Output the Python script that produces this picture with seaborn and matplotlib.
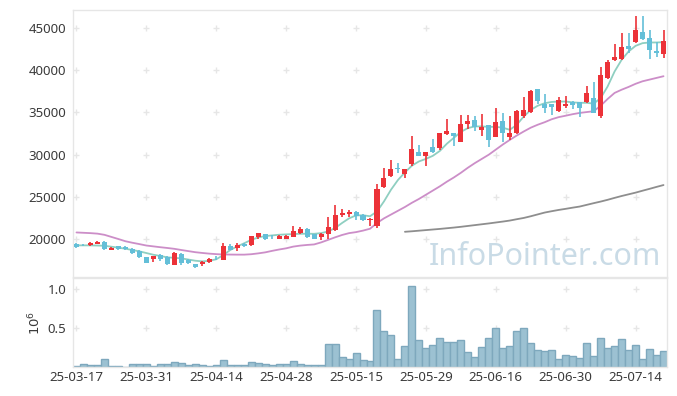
import numpy as np
import pandas as pd
import matplotlib
matplotlib.use('Agg')
import matplotlib.pyplot as plt
import seaborn as sns

# trading days (KRX holidays removed)
holidays = ['2025-05-01', '2025-05-05', '2025-05-06', '2025-06-03', '2025-06-06']
dates = pd.bdate_range('2025-03-17', '2025-07-18', freq='C', holidays=holidays)

opens = [19400, 19300, 19330, 19450, 19680, 18740, 19130, 19090, 18850, 18620,
         17830, 17590, 18150, 17900, 16960, 18260, 17550, 17080, 17040, 17270,
         17800, 17550, 19206, 18970, 19440, 19245, 20270, 20620, 20140, 20000,
         20000, 20270, 20660, 21220, 20620, 20270, 20550, 21050, 22800, 23000,
         23230, 22880, 22250, 21570, 26120, 27420, 28400, 27740, 28880, 30330,
         29790, 30900, 30760, 32500, 32580, 31560, 33580, 34130, 32970, 33500,
         32140, 34000, 32140, 32540, 34600, 35000, 37810, 36030, 36030, 35120,
         35720, 36230, 36230, 36190, 36740, 34530, 39070, 41170, 41400, 42900,
         43300, 44560, 43810, 42310, 41950]
highs = [19490, 19450, 19640, 19760, 19720, 19050, 19170, 19130, 18900, 18660,
         17860, 18020, 18220, 17950, 18420, 18300, 17600, 17100, 17390, 17700,
         17950, 19520, 19400, 19520, 19520, 20400, 20740, 20650, 20500, 20430,
         20500, 21530, 21380, 21300, 20650, 20700, 22560, 24060, 23550, 23470,
         23270, 22960, 22440, 26500, 28400, 29320, 29000, 28330, 32200, 31200,
         30330, 31850, 32600, 34230, 32600, 34730, 34730, 34600, 34780, 33520,
         35500, 34900, 34620, 35300, 36820, 37650, 37810, 37200, 36030, 36820,
         36900, 36310, 36230, 38200, 38560, 40400, 41250, 43100, 44400, 44400,
         46400, 46400, 44800, 43300, 44800]
lows = [18930, 19130, 19130, 19400, 18740, 18660, 18740, 18740, 18260, 17790,
        17160, 17270, 17430, 16960, 16880, 16880, 17050, 16560, 16800, 17160,
        17550, 17500, 18700, 18600, 19090, 19200, 20000, 19900, 19950, 19950,
        19950, 20190, 20580, 20110, 19990, 19870, 20000, 20900, 22640, 22600,
        22290, 22170, 21570, 21260, 26100, 27300, 27820, 27210, 28600, 29790,
        28600, 30200, 30500, 32300, 30970, 31560, 33000, 32800, 32180, 30870,
        32140, 31500, 31760, 32500, 34300, 34950, 36000, 34930, 34730, 35000,
        35520, 35440, 34450, 36110, 34900, 34330, 38950, 41050, 41250, 42040,
        43220, 43610, 41330, 41520, 41480]
closes = [19100, 19250, 19565, 19680, 18775, 18970, 18775, 18775, 18300, 17830,
          17200, 17950, 17670, 17000, 18380, 17160, 17120, 16640, 17310, 17670,
          17740, 19206, 18730, 19285, 19200, 20390, 20740, 19950, 20080, 20310,
          20350, 20980, 21220, 20190, 20030, 20620, 21460, 22880, 23080, 23230,
          22680, 22210, 22400, 25950, 27240, 28290, 28330, 28330, 30700, 29790,
          30330, 30260, 32560, 32830, 32260, 33680, 34030, 33280, 33300, 31740,
          33880, 32520, 32580, 35200, 35320, 37590, 36310, 35480, 35600, 36430,
          36030, 35910, 35520, 37290, 34930, 39500, 41000, 41520, 42790, 42580,
          44800, 43770, 42350, 42070, 43450]

ma5 = [19250, 19250, 19250, 19230, 19200, 19090, 18980, 18850, 18700, 18540,
       18340, 18140, 17990, 17830, 17770, 17710, 17570, 17430, 17350, 17420,
       17600, 18100, 18700, 19130, 19500, 19900, 20190, 20350, 20430, 20510,
       20550, 20590, 20620, 20630, 20620, 20700, 20900, 21300, 21900, 22450,
       22800, 22820, 22700, 23270, 24460, 25840, 27000, 27900, 28700, 29200,
       29500, 29870, 30450, 31300, 32000, 32700, 33150, 33350, 33350, 33300,
       33300, 33200, 32950, 33540, 34530, 35300, 35800, 36100, 36250, 36300,
       36300, 36200, 36150, 36150, 36050, 36700, 38080, 39860, 41240, 42230,
       42900, 43220, 43300, 43300, 43340]
ma20 = [20780, 20740, 20700, 20640, 20500, 20250, 20000, 19740, 19560, 19400,
        19230, 19130, 19030, 18940, 18840, 18700, 18570, 18440, 18350, 18270,
        18210, 18170, 18160, 18150, 18150, 18200, 18300, 18420, 18600, 18760,
        18900, 19100, 19220, 19300, 19360, 19600, 19900, 20200, 20480, 20700,
        20820, 21000, 21220, 21900, 22450, 22900, 23350, 23800, 24300, 24750,
        25250, 25750, 26250, 26800, 27300, 27850, 28450, 29000, 29500, 30000,
        30600, 31200, 31750, 32270, 32750, 33200, 33550, 33850, 34200, 34450,
        34620, 34800, 34950, 35050, 35150, 35800, 36600, 37320, 37700, 38030,
        38400, 38700, 38900, 39100, 39300]
ma60 = [np.nan] * 47 + [
        20860, 20920, 20990, 21060, 21130, 21200, 21280, 21360, 21450, 21550,
        21650, 21750, 21850, 21960, 22070, 22190, 22350, 22500, 22700, 22920,
        23140, 23300, 23450, 23580, 23720, 23850, 24050, 24250, 24440, 24650,
        24880, 25100, 25300, 25500, 25730, 25950, 26180, 26400]

volume = [0.013, 0.034, 0.021, 0.021, 0.098, 0.009, 0.009, 0.002, 0.034, 0.034,
          0.034, 0.009, 0.034, 0.034, 0.060, 0.047, 0.021, 0.034, 0.021, 0.009,
          0.021, 0.085, 0.021, 0.021, 0.021, 0.060, 0.047, 0.034, 0.021, 0.034,
          0.034, 0.073, 0.034, 0.021, 0.021, 0.021, 0.300, 0.290, 0.124, 0.098,
          0.175, 0.085, 0.073, 0.730, 0.457, 0.406, 0.098, 0.265, 1.034, 0.342,
          0.240, 0.278, 0.368, 0.316, 0.316, 0.342, 0.188, 0.124, 0.252, 0.368,
          0.496, 0.240, 0.265, 0.457, 0.496, 0.303, 0.214, 0.200, 0.214, 0.098,
          0.150, 0.137, 0.111, 0.303, 0.137, 0.368, 0.240, 0.265, 0.355, 0.214,
          0.278, 0.098, 0.226, 0.150, 0.200]

UP = '#ec3238'
DOWN = '#64bfd8'
GRID = '#e6e6e6'
FRAME = '#e6e6e6'
TXT = '#3a3a3a'

sns.set_theme(style='white')
plt.rcParams['font.family'] = ['Noto Sans', 'DejaVu Sans']

df = pd.DataFrame({'date': dates, 'open': opens, 'high': highs, 'low': lows,
                   'close': closes, 'ma5': ma5, 'ma20': ma20, 'ma60': ma60,
                   'volume': volume})
df['i'] = np.arange(len(df))
up = df['close'] >= df['open']

fig = plt.figure(figsize=(6.77, 3.96), dpi=100)
ax = fig.add_axes([73 / 677, 1 - 277 / 396, 594 / 677, 267 / 396])
axv = fig.add_axes([73 / 677, 1 - 367 / 396, 594 / 677, 89 / 396], sharex=ax)

xt = np.arange(0, len(df), 10)
yt = np.arange(20000, 45001, 5000)
vt = [0.5, 1.0]

# plus-shaped grid marks
gx, gy = np.meshgrid(xt, yt)
ax.plot(gx.ravel(), gy.ravel(), '+', color=GRID, ms=5, mew=1, zorder=0)
gx, gy = np.meshgrid(xt, vt)
axv.plot(gx.ravel(), gy.ravel(), '+', color=GRID, ms=5, mew=1, zorder=0)

ax.text(0.99, 0.02, 'InfoPointer.com', transform=ax.transAxes, ha='right',
        va='bottom', fontsize=22, color='#c9dbe6', zorder=1)

# moving averages
sns.lineplot(data=df, x='i', y='ma60', ax=ax, color='#8e8e8e', lw=1.3, zorder=2)
sns.lineplot(data=df, x='i', y='ma20', ax=ax, color='#cc8ec8', lw=1.3, zorder=2)
sns.lineplot(data=df, x='i', y='ma5', ax=ax, color='#8fcfc1', lw=1.3, zorder=2)

# candles
colors = np.where(up, UP, DOWN)
ax.vlines(df['i'], df['low'], df['high'], colors=colors, lw=1.2, zorder=3)
body_lo = np.minimum(df['open'], df['close'])
body_h = np.maximum(np.abs(df['close'] - df['open']), 60)
ax.bar(df['i'], body_h, bottom=body_lo, width=0.72, color=colors, lw=0, zorder=4)

# volume
sns.barplot(data=df, x='i', y='volume', ax=axv, native_scale=True, width=1.0,
            color='#9cc1d2', edgecolor='#7ea8bd', linewidth=1.0, saturation=1,
            errorbar=None, zorder=2)

ax.set_xlim(-0.5, len(df) - 0.5)
ax.set_ylim(15500, 47150)
ax.set_yticks(yt)
axv.set_ylim(0, 1.14)
axv.set_yticks(vt)
axv.set_yticklabels(['0.5', '1.0'])
axv.set_xticks(xt)
axv.set_xticklabels([dates[k].strftime('%y-%m-%d') for k in xt])
ax.tick_params(axis='x', labelbottom=False)

for a in (ax, axv):
    a.set_xlabel('')
    a.set_ylabel('')
    a.tick_params(length=0, labelsize=9.5, colors=TXT, pad=5)
    for s in a.spines.values():
        s.set_color(FRAME)
        s.set_linewidth(1)
axv.tick_params(axis='x', pad=3)
axv.set_ylabel(r'$10^6$', fontsize=9.5, color=TXT, labelpad=3)

fig.savefig('out.png', dpi=100)
